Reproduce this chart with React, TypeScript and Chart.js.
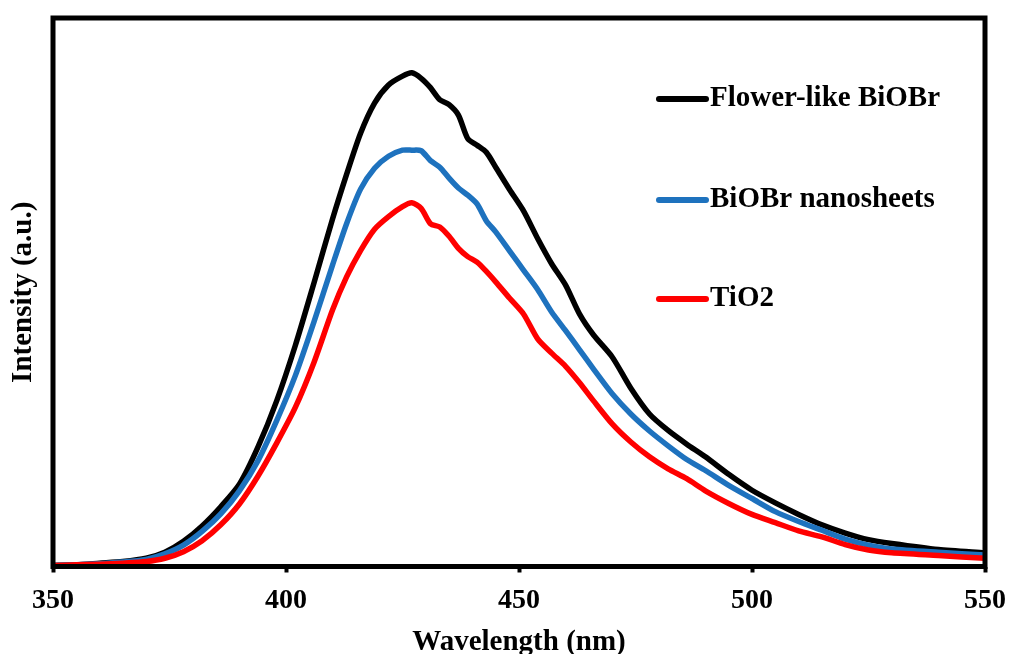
import React, { useEffect, useRef } from "react";
import { Chart, registerables } from "chart.js";

Chart.register(...registerables);

const wavelengths = [350, 355, 360, 365, 370, 374, 378, 382, 386, 390, 394, 398, 402, 406, 410, 413, 416, 419, 422, 425, 427, 429, 431, 433, 435, 437, 439, 441, 443, 445, 448, 451, 454, 457, 460, 463, 466, 470, 474, 478, 482, 486, 490, 495, 500, 505, 510, 515, 520, 525, 530, 540, 550];

const flowerLike = [0.2, 0.3, 0.6, 0.9, 1.5, 2.6, 4.6, 7.4, 10.9, 15.0, 21.8, 30.2, 40.3, 51.7, 63.4, 71.5, 79.0, 84.5, 87.8, 89.4, 90.0, 89.0, 87.3, 85.1, 84.2, 82.3, 78.0, 76.8, 75.5, 72.8, 68.7, 64.8, 59.8, 55.2, 51.3, 46.0, 42.2, 38.2, 32.5, 27.8, 24.8, 22.3, 20.0, 16.8, 13.9, 11.6, 9.5, 7.6, 6.1, 4.9, 4.2, 3.1, 2.5];

const nanosheets = [0.2, 0.3, 0.5, 0.8, 1.3, 2.3, 3.9, 6.4, 9.6, 13.8, 19.3, 26.6, 34.8, 44.6, 55.0, 62.5, 68.8, 72.6, 74.8, 75.9, 75.9, 75.8, 74.0, 72.8, 70.8, 69.0, 67.7, 66.1, 63.0, 61.0, 57.5, 54.0, 50.5, 46.4, 43.0, 39.5, 36.0, 31.5, 27.8, 24.7, 22.0, 19.5, 17.5, 14.8, 12.4, 10.0, 8.2, 6.6, 5.0, 3.9, 3.2, 2.6, 2.1];

const tio2 = [0.2, 0.3, 0.4, 0.6, 0.9, 1.5, 2.7, 4.7, 7.6, 11.4, 16.5, 22.5, 29.0, 37.2, 46.8, 52.8, 57.6, 61.5, 63.8, 65.6, 66.3, 65.3, 62.5, 61.9, 60.2, 58.0, 56.5, 55.5, 53.8, 51.9, 48.9, 46.0, 41.5, 38.9, 36.5, 33.5, 30.2, 26.0, 22.7, 20.0, 17.8, 16.0, 13.8, 11.5, 9.5, 8.0, 6.5, 5.4, 4.0, 3.0, 2.5, 2.0, 1.5];

const seriesLabels = ["Flower-like BiOBr", "BiOBr nanosheets", "TiO2"];
const seriesColors = ["#000000", "#1e72be", "#ff0000"];
const xTicks = [350, 400, 450, 500, 550];

const FONT = "'Liberation Serif', 'Times New Roman', serif";

const framePlugin = {
  id: "frameBox",
  afterDatasetsDraw(chart: any) {
    const { ctx, chartArea } = chart;
    ctx.save();
    ctx.strokeStyle = "#000";
    ctx.lineWidth = 5;
    ctx.strokeRect(chartArea.left, chartArea.top, chartArea.right - chartArea.left, chartArea.bottom - chartArea.top);
    ctx.restore();
  },
};

const legendPlugin = {
  id: "insideLegend",
  afterDraw(chart: any) {
    const { ctx } = chart;
    const rows = [99, 200, 299];
    ctx.save();
    chart.data.datasets.forEach((ds: any, i: number) => {
      const y = rows[i];
      ctx.strokeStyle = ds.borderColor;
      ctx.lineWidth = 6;
      ctx.lineCap = "round";
      ctx.beginPath();
      ctx.moveTo(659, y);
      ctx.lineTo(706, y);
      ctx.stroke();
      ctx.fillStyle = "#000";
      ctx.font = `bold 29px ${FONT}`;
      ctx.textAlign = "left";
      ctx.textBaseline = "middle";
      ctx.fillText(ds.label, 710, y);
    });
    ctx.restore();
  },
};

export default function App() {
  const ref = useRef<HTMLCanvasElement>(null);

  useEffect(() => {
    if (!ref.current) return;
    const datasets = [flowerLike, nanosheets, tio2].map((vals, i) => ({
      label: seriesLabels[i],
      data: wavelengths.map((w, j) => ({ x: w, y: vals[j] })),
      borderColor: seriesColors[i],
      backgroundColor: seriesColors[i],
      borderWidth: 5.5,
      pointRadius: 0,
      tension: 0.25,
      borderJoinStyle: "round" as const,
      borderCapStyle: "round" as const,
      order: 2 - i,
    }));
    const chart = new Chart(ref.current, {
      type: "line",
      data: { datasets },
      options: {
        animation: false,
        responsive: false,
        layout: { padding: { top: 18, right: 24, left: 0, bottom: 0 } },
        plugins: { legend: { display: false }, tooltip: { enabled: false } },
        scales: {
          x: {
            type: "linear",
            min: 350,
            max: 550,
            afterBuildTicks: (scale: any) => {
              scale.ticks = xTicks.map((v) => ({ value: v }));
            },
            afterFit: (scale: any) => {
              scale.height = 87.5;
              scale.paddingLeft = 0;
              scale.paddingRight = 0;
            },
            border: { display: false },
            grid: {
              display: true,
              drawOnChartArea: false,
              drawTicks: true,
              tickLength: 6,
              tickWidth: 4,
              color: "#000",
            },
            ticks: {
              color: "#000",
              padding: 11,
              maxRotation: 0,
              autoSkip: false,
              font: { family: FONT, size: 28, weight: "bold" },
            },
            title: {
              display: true,
              text: "Wavelength (nm)",
              color: "#000",
              font: { family: FONT, size: 29, weight: "bold" },
              padding: { top: 0, bottom: -6 },
            },
          },
          y: {
            min: 0,
            max: 100,
            afterFit: (scale: any) => {
              scale.width = 53;
            },
            border: { display: false },
            grid: { display: false },
            ticks: { display: false },
            title: {
              display: true,
              text: "Intensity (a.u.)",
              color: "#000",
              font: { family: FONT, size: 29, weight: "bold" },
              padding: { top: 6, bottom: 0 },
            },
          },
        },
      },
      plugins: [framePlugin, legendPlugin],
    });
    return () => chart.destroy();
  }, []);

  return (
    <div style={{ position: "fixed", left: 0, top: 0, width: 1009, height: 654, background: "#fff" }}>
      <canvas ref={ref} width={1009} height={654} style={{ display: "block" }} />
    </div>
  );
}
